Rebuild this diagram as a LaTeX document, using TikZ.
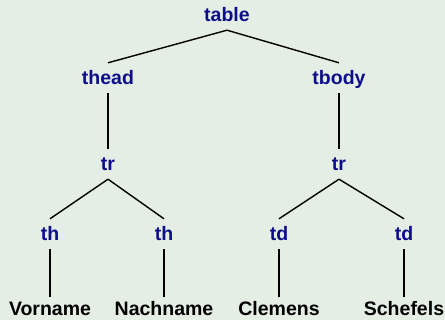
\documentclass[tikz,border=0pt]{standalone}
\usepackage{fontspec}
\setmainfont{Liberation Sans}
\definecolor{bgpale}{RGB}{228,238,228}
\definecolor{tagblue}{RGB}{14,14,138}
\begin{document}
\begin{tikzpicture}[x=1pt,y=-1pt,
  tag/.style={inner sep=0pt, text height=22pt, text depth=8pt,
    font=\fontsize{19.5}{23}\selectfont\bfseries, text=tagblue},
  leaf/.style={inner sep=0pt, text height=19pt, text depth=8pt,
    font=\fontsize{19.5}{23}\selectfont\bfseries, text=black},
  edge/.style={line width=1.4pt, black}]
  % canvas
  \fill[bgpale] (0,0) rectangle (445,320);
  \useasboundingbox (0,0) rectangle (445,320);
  % element nodes, placed on their baselines
  \node[tag, anchor=base] (table) at (227,22) {table};
  \node[tag, anchor=base] (thead) at (108,85) {thead};
  \node[tag, anchor=base] (tbody) at (339,85) {tbody};
  \node[tag, anchor=base] (trh)   at (108,171) {tr};
  \node[tag, anchor=base] (trb)   at (339,171) {tr};
  \node[tag, anchor=base] (th1)   at (50,241)  {th};
  \node[tag, anchor=base] (th2)   at (164,241) {th};
  \node[tag, anchor=base] (td1)   at (279,241) {td};
  \node[tag, anchor=base] (td2)   at (404,241) {td};
  % text content
  \node[leaf, anchor=base] (v1) at (50,316)  {Vorname};
  \node[leaf, anchor=base] (v2) at (164,316) {Nachname};
  \node[leaf, anchor=base] (v3) at (279,316) {Clemens};
  \node[leaf, anchor=base] (v4) at (404,316) {Schefels};
  % tree edges
  \draw[edge] (table.south) -- (thead.north);
  \draw[edge] (table.south) -- (tbody.north);
  \draw[edge] (thead.south) -- (trh.north);
  \draw[edge] (tbody.south) -- (trb.north);
  \draw[edge] (trh.south) -- (th1.north);
  \draw[edge] (trh.south) -- (th2.north);
  \draw[edge] (trb.south) -- (td1.north);
  \draw[edge] (trb.south) -- (td2.north);
  \draw[edge] (th1.south) -- (v1.north);
  \draw[edge] (th2.south) -- (v2.north);
  \draw[edge] (td1.south) -- (v3.north);
  \draw[edge] (td2.south) -- (v4.north);
\end{tikzpicture}
\end{document}
